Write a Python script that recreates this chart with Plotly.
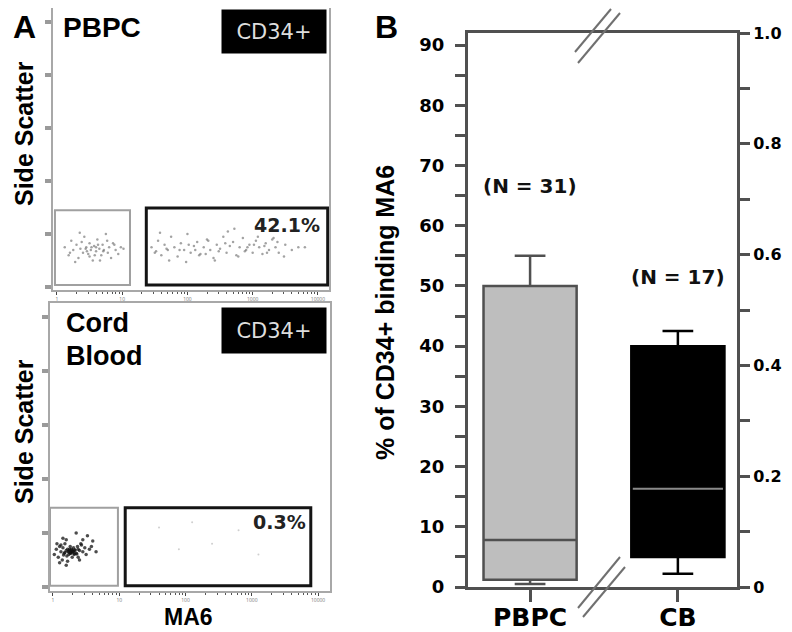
import math
import plotly.graph_objects as go

W, H = 792, 632
OFF = 8  # page body margin offset of the figure in the browser
def px(x): return (x - OFF) / W
def py(y): return min(1.0, 1 - (y - OFF) / H)

# ---------------- Panel B data ----------------
groups = ["PBPC", "CB"]
group_pos = [0, 1]
q1 = [1.2, 5.0]
median = [7.8, 16.3]
q3 = [50.0, 40.0]
lower = [0.5, 2.2]
upper = [55.0, 42.5]
n_labels = ["(N = 31)", "(N = 17)"]
n_label_y = [66.6, 51.5]
left_ticks = [0, 10, 20, 30, 40, 50, 60, 70, 80, 90]
right_ticks = [0, 0.2, 0.4, 0.6, 0.8, 1.0]
right_labels = ["0", "0.2", "0.4", "0.6", "0.8", "1.0"]
box_fill = ["#bebebe", "#000000"]
box_line = ["#505050", "#000000"]
box_width = 0.63

# ---------------- Panel A data (flow plots, decades on x) ----------------
flow_xticks = [0, 1, 2, 3, 4]
flow_xlabels = ["1", "10", "100", "1000", "10000"]
flow_yticks = [0, 200, 400, 600, 800, 1000]

pbpc_neg_x = [0.12,0.18,0.22,0.25,0.3,0.33,0.36,0.4,0.42,0.45,0.48,0.5,0.52,0.55,0.57,0.6,0.62,0.65,0.68,0.7,0.72,0.75,0.78,0.8,0.83,0.86,0.9,0.94,0.98,1.02,0.28,0.38,0.46,0.53,0.58,0.63,0.71,0.44,0.5,0.6,0.35,0.66,0.77,0.2,0.88]
pbpc_neg_y = [150,120,175,140,160,110,145,130,190,150,125,165,140,100,155,135,180,145,120,160,140,200,130,150,110,165,140,125,150,145,95,170,135,150,120,160,135,145,115,150,205,100,175,130,160]
pbpc_pos_x = [1.45,1.5,1.55,1.6,1.65,1.7,1.75,1.8,1.85,1.9,1.95,2.0,2.05,2.1,2.15,2.2,2.25,2.3,2.35,2.4,2.45,2.5,2.55,2.6,2.65,2.7,2.75,2.8,2.85,2.9,2.95,3.0,3.05,3.1,3.15,3.2,3.25,3.3,3.35,3.4,3.5,3.6,3.7,1.58,1.72,1.88,2.02,2.18,2.32,2.48,2.62,2.78,2.92,3.08,3.22,3.38,1.68,1.98,2.28,2.58,2.88,3.18,3.48,2.12,2.42,2.72,3.02,3.32,3.8,1.52]
pbpc_pos_y = [150,130,175,120,160,140,190,150,115,165,140,200,130,155,170,125,150,180,140,110,160,145,190,130,155,170,120,150,185,140,160,130,175,150,125,165,140,180,150,130,160,140,150,205,100,140,160,120,175,135,210,115,150,190,130,170,145,95,125,165,135,155,115,140,100,220,160,185,150,135]
cb_neg_x = [0.02,0.05,0.08,0.1,0.12,0.14,0.15,0.17,0.18,0.2,0.21,0.22,0.23,0.24,0.25,0.26,0.27,0.28,0.29,0.3,0.31,0.32,0.33,0.35,0.37,0.38,0.4,0.42,0.45,0.48,0.5,0.55,0.6,0.65,0.1,0.15,0.2,0.22,0.25,0.27,0.3,0.33,0.36,0.18,0.24,0.28,0.32,0.12,0.4,0.45,0.06,0.52,0.58,0.35,0.2,0.26,0.3,0.16,0.38,0.43]
cb_neg_y = [120,140,110,150,130,100,145,125,160,135,115,140,130,120,135,150,125,140,110,130,145,120,135,125,150,110,135,160,130,145,120,140,170,130,90,180,175,95,140,128,132,138,122,128,130,136,124,155,100,175,160,190,150,200,80,125,132,118,140,155]
cb_pos_x = [1.6, 2.1, 2.4, 2.8, 1.9, 3.1]
cb_pos_y = [220, 240, 160, 210, 140, 120]

# gates: [x0, x1, y0, y1]
pbpc_gate_neg = [-0.03, 1.12, 8, 290]
pbpc_gate_pos = [1.37, 4.15, 8, 298]
cb_gate_neg = [-0.045, 0.98, 4, 293]
cb_gate_pos = [1.09, 3.89, 4, 293]
pbpc_pct = ["42.1%", 4.06, 234]
cb_pct = ["0.3%", 3.85, 241]

fig = go.Figure()

# ---- panel B boxes ----
for i in range(2):
    fig.add_trace(go.Box(
        x=[group_pos[i]], q1=[q1[i]], median=[median[i]], q3=[q3[i]],
        lowerfence=[lower[i]], upperfence=[upper[i]],
        fillcolor=box_fill[i], line=dict(color=box_line[i], width=2.5),
        whiskerwidth=0.33, width=box_width, boxpoints=False,
        xaxis="x", yaxis="y", showlegend=False, hoverinfo="skip"))
fig.add_trace(go.Scatter(
    x=[group_pos[1] - box_width / 2 + 0.01, group_pos[1] + box_width / 2 - 0.01],
    y=[median[1], median[1]], mode="lines", line=dict(color="#8a8a8a", width=2),
    xaxis="x", yaxis="y", showlegend=False, hoverinfo="skip"))
fig.add_trace(go.Scatter(x=[group_pos[0]], y=[0], mode="markers", marker=dict(opacity=0),
                         xaxis="x", yaxis="y2", showlegend=False, hoverinfo="skip"))

# ---- flow scatter points ----
fig.add_trace(go.Scatter(x=pbpc_neg_x, y=pbpc_neg_y, mode="markers",
    marker=dict(size=2.5, color="#666", opacity=0.6), xaxis="x3", yaxis="y3", showlegend=False))
fig.add_trace(go.Scatter(x=pbpc_pos_x, y=pbpc_pos_y, mode="markers",
    marker=dict(size=2.5, color="#666", opacity=0.6), xaxis="x3", yaxis="y3", showlegend=False))
fig.add_trace(go.Scatter(x=cb_neg_x, y=cb_neg_y, mode="markers",
    marker=dict(size=3.5, color="#111", opacity=0.75), xaxis="x4", yaxis="y4", showlegend=False))
fig.add_trace(go.Scatter(x=cb_pos_x, y=cb_pos_y, mode="markers",
    marker=dict(size=2, color="#bbb", opacity=0.7), xaxis="x4", yaxis="y4", showlegend=False))

axc = "#505050"
minor_x = [d + math.log10(k) for d in range(4) for k in range(2, 10)]
flow_x_common = dict(showline=True, mirror=True, linecolor="#a8a8a8", linewidth=2,
                     showgrid=False, zeroline=False, tickvals=flow_xticks, ticktext=flow_xlabels,
                     ticks="outside", ticklen=3, tickwidth=1, tickcolor="#444",
                     tickfont=dict(size=5, color="#777"), automargin=False,
                     minor=dict(tickvals=minor_x, ticks="outside", ticklen=2, tickcolor="#555"))
flow_y_common = dict(showline=True, mirror=True, linecolor="#a8a8a8", linewidth=2,
                     showgrid=False, zeroline=False, tickvals=flow_yticks, showticklabels=False,
                     ticks="outside", ticklen=6, tickwidth=4, tickcolor="#9a9a9a", automargin=False)
tick_font_b = dict(family="DejaVu Sans", size=18, color="black", weight="bold")
tick_font_r = dict(family="DejaVu Sans", size=16, color="black", weight="bold")

fig.update_layout(
    width=W, height=H, autosize=False,
    margin=dict(l=0, r=0, t=0, b=0, pad=0, autoexpand=False),
    paper_bgcolor="white", plot_bgcolor="white",
    xaxis=dict(domain=[px(468), px(737)], range=[-0.42, 1.40], anchor="y", automargin=False,
               showline=True, mirror=True, linecolor=axc, linewidth=3,
               showgrid=False, zeroline=False, tickvals=group_pos, ticktext=groups,
               ticks="outside", ticklen=12, tickwidth=3, tickcolor=axc, ticklabelstandoff=-6,
               tickfont=dict(family="DejaVu Sans", size=25, color="black", weight="bold")),
    yaxis=dict(domain=[py(587), py(33)], range=[0, 92], anchor="x", automargin=False,
               showline=True, linecolor=axc, linewidth=3, showgrid=False, zeroline=False,
               tickvals=left_ticks, ticks="outside", ticklen=10, tickwidth=3, tickcolor=axc,
               ticklabelstandoff=7,
               minor=dict(dtick=5, ticks="outside", ticklen=10, tickwidth=3, tickcolor=axc),
               tickfont=tick_font_b),
    yaxis2=dict(overlaying="y", side="right", anchor="x", range=[0, 1.0], automargin=False,
                showline=True, linecolor=axc, linewidth=3, showgrid=False, zeroline=False,
                tickvals=right_ticks, ticktext=right_labels,
                ticks="outside", ticklen=10, tickwidth=3, tickcolor=axc, ticklabelstandoff=0,
                minor=dict(dtick=0.1, ticks="outside", ticklen=10, tickwidth=3, tickcolor=axc),
                tickfont=tick_font_r),
    xaxis3=dict(domain=[px(53), px(329)], range=[-0.06, 4.17], anchor="y3", **flow_x_common),
    yaxis3=dict(domain=[py(290), py(8)], range=[-11, 1053], anchor="x3", **flow_y_common),
    xaxis4=dict(domain=[px(50), px(330)], range=[-0.045, 4.18], anchor="y4", **flow_x_common),
    yaxis4=dict(domain=[py(591), py(303)], range=[-15, 1052], anchor="x4", **flow_y_common),
)

shapes = []
for gate, xr, yr in [(pbpc_gate_neg, "x3", "y3"), (cb_gate_neg, "x4", "y4")]:
    shapes.append(dict(type="rect", xref=xr, yref=yr, x0=gate[0], x1=gate[1], y0=gate[2], y1=gate[3],
                       line=dict(color="#a0a0a0", width=2)))
for gate, xr, yr in [(pbpc_gate_pos, "x3", "y3"), (cb_gate_pos, "x4", "y4")]:
    shapes.append(dict(type="rect", xref=xr, yref=yr, x0=gate[0], x1=gate[1], y0=gate[2], y1=gate[3],
                       line=dict(color="#141414", width=3)))
for (x0, y0, x1, y1) in [(575, 52, 611, 9), (578, 63, 620, 13), (578, 608, 620, 557), (583, 617, 625, 567)]:
    shapes.append(dict(type="line", xref="paper", yref="paper", x0=px(x0), y0=py(y0), x1=px(x1), y1=py(y1),
                       line=dict(color="#707070", width=2)))
fig.update_layout(shapes=shapes)

bold_arial = dict(family="Liberation Sans", color="black", weight="bold")
C = dict(xref="paper", yref="paper", showarrow=False, xanchor="center", yanchor="middle")
L = dict(xref="paper", yref="paper", showarrow=False, xanchor="left", yanchor="middle")
ann = []
ann.append(dict(text="A", x=px(24), y=py(27), font=dict(size=32, **bold_arial), **C))
ann.append(dict(text="B", x=px(386), y=py(27), font=dict(size=32, **bold_arial), **C))
ann.append(dict(text="% of CD34+ binding MA6", x=px(385), y=py(313), textangle=-90,
                font=dict(size=25, **bold_arial), **C))
for yc in [134, 432]:
    ann.append(dict(text="Side Scatter", x=px(24), y=py(yc), textangle=-90,
                    font=dict(size=25, **bold_arial), **C))
ann.append(dict(text="MA6", x=px(188), y=py(617), font=dict(size=23, **bold_arial), **C))
ann.append(dict(text="PBPC", x=px(61), y=py(27), font=dict(size=28, **bold_arial), **L))
ann.append(dict(text="Cord", x=px(64), y=py(323), font=dict(size=27, **bold_arial), **L))
ann.append(dict(text="Blood", x=px(64), y=py(356), font=dict(size=27, **bold_arial), **L))
for (ytop, ybot) in [(10, 53), (308, 353)]:
    ann.append(dict(text="CD34+", x=px(274), y=py((ytop + ybot) / 2),
                    bgcolor="black", width=102, height=ybot - ytop - 2,
                    font=dict(family="DejaVu Sans", size=21, color="#dddddd"), **C))
for (lab, xx, yy), xr, yr in [(pbpc_pct, "x3", "y3"), (cb_pct, "x4", "y4")]:
    ann.append(dict(text=lab, x=xx, y=yy, xref=xr, yref=yr, xanchor="right", yanchor="middle",
                    showarrow=False,
                    font=dict(family="DejaVu Sans", size=19, color="#222", weight="bold")))
for i in range(2):
    ann.append(dict(text=n_labels[i], x=group_pos[i], y=n_label_y[i], xref="x", yref="y",
                    showarrow=False, xanchor="center", yanchor="middle",
                    font=dict(family="DejaVu Sans", size=20, color="#111", weight="bold")))
fig.update_layout(annotations=ann)

fig.write_html("out.html")
